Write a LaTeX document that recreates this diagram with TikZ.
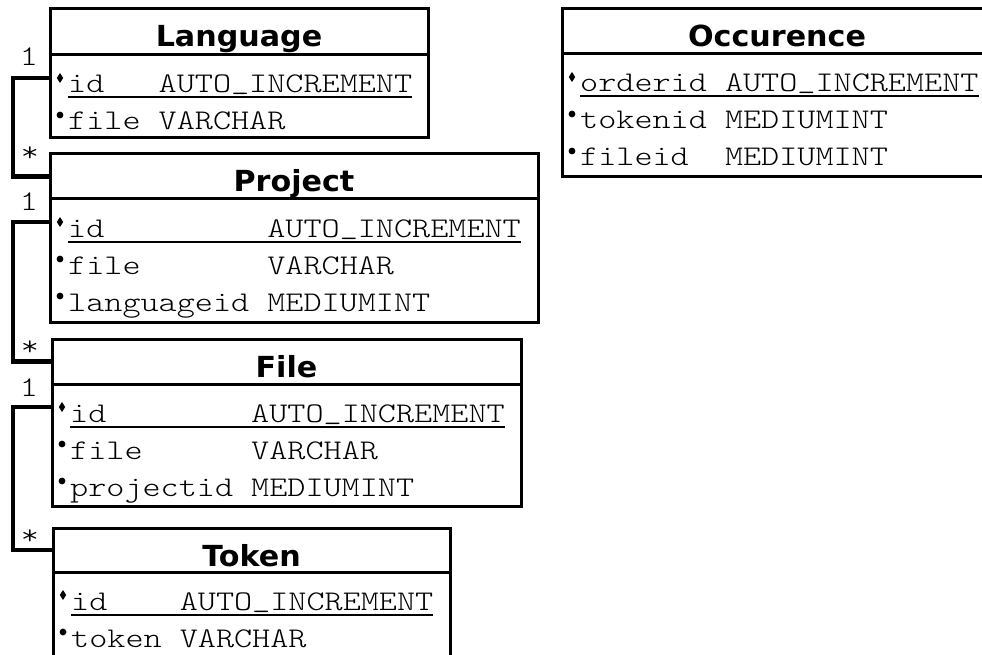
\documentclass[tikz,border=0pt]{standalone}
\usepackage{fontspec}
\newfontfamily\hdrfont{DejaVu Sans}[FakeStretch=1.04]
\newfontfamily\fieldfont{lmmonolt10-regular.otf}[FakeStretch=1.21]
\newcommand\colw[2]{\makebox[#1\fontcharwd\font`x][l]{#2}}
\newcommand\AI{AUTO\raisebox{3pt}{\textunderscore}INCREMENT}
\begin{document}
\begin{tikzpicture}[x=1pt,y=-1pt,
  tbl/.style={draw, line width=3pt, anchor=north west, inner sep=0pt, outer sep=0pt},
  ttl/.style={anchor=base, inner sep=0pt, font=\hdrfont\bfseries\fontsize{29}{33}\selectfont},
  fld/.style={anchor=base west, inner sep=0pt, font=\fieldfont\fontsize{28.5}{34}\selectfont},
  lbl/.style={inner sep=0pt, font=\fieldfont\fontsize{28.5}{34}\selectfont},
  conn/.style={line width=4.5pt},
  ul/.style={line width=2pt},
  keym/.pic={\fill (0,-5) -- (3.2,0) -- (0,5) -- (-3.2,0) -- cycle;},
  dotm/.pic={\fill (0,0) circle (3.4pt);},
]
\useasboundingbox (0,0) rectangle (982,655);
\clip (0,0) rectangle (982,655);

% ---------- Language ----------
\node[tbl, minimum width=378pt, minimum height=46pt] (langhead) at (50,9) {};
\node[tbl, minimum width=378pt, minimum height=83pt] (langbody) at (50,55) {};
\node[ttl] (langtitle) at (239,47) {Language};
\node[fld] (langid) at (68,93) {\colw{5}{id}\AI};
\node[fld] (langfile) at (68,130) {\colw{5}{file}VARCHAR};
\pic at ([xshift=-8pt,yshift=15pt]langid.base west) {keym};
\pic at ([xshift=-8pt,yshift=15pt]langfile.base west) {dotm};
\draw[ul] ([yshift=-4.5pt]langid.base west) -- ([yshift=-4.5pt]langid.base east);

% ---------- Project ----------
\node[tbl, minimum width=488pt, minimum height=45pt] (projhead) at (50,154) {};
\node[tbl, minimum width=488pt, minimum height=123pt] (projbody) at (50,199) {};
\node[ttl] (projtitle) at (294,192) {Project};
\node[fld] (projid) at (68,237) {\colw{11}{id}\AI};
\node[fld] (projfile) at (68,274) {\colw{11}{file}VARCHAR};
\node[fld] (projlang) at (68,311) {\colw{11}{languageid}MEDIUMINT};
\pic at ([xshift=-8pt,yshift=15pt]projid.base west) {keym};
\pic at ([xshift=-8pt,yshift=15pt]projfile.base west) {dotm};
\pic at ([xshift=-8pt,yshift=15pt]projlang.base west) {dotm};
\draw[ul] ([yshift=-4.5pt]projid.base west) -- ([yshift=-4.5pt]projid.base east);

% ---------- File ----------
\node[tbl, minimum width=469pt, minimum height=45pt] (filehead) at (52,339) {};
\node[tbl, minimum width=469pt, minimum height=122pt] (filebody) at (52,384) {};
\node[ttl] (filetitle) at (286.5,377) {File};
\node[fld] (fileid) at (70,422) {\colw{10}{id}\AI};
\node[fld] (filefile) at (70,459) {\colw{10}{file}VARCHAR};
\node[fld] (fileproj) at (70,496) {\colw{10}{projectid}MEDIUMINT};
\pic at ([xshift=-8pt,yshift=15pt]fileid.base west) {keym};
\pic at ([xshift=-8pt,yshift=15pt]filefile.base west) {dotm};
\pic at ([xshift=-8pt,yshift=15pt]fileproj.base west) {dotm};
\draw[ul] ([yshift=-4.5pt]fileid.base west) -- ([yshift=-4.5pt]fileid.base east);

% ---------- Token ----------
\node[tbl, minimum width=397pt, minimum height=44pt] (tokhead) at (53,528) {};
\node[tbl, minimum width=397pt, minimum height=100pt] (tokbody) at (53,572) {};
\node[ttl] (toktitle) at (251.5,566) {Token};
\node[fld] (tokid) at (71,610) {\colw{6}{id}\AI};
\node[fld] (toktok) at (71,647) {\colw{6}{token}VARCHAR};
\pic at ([xshift=-8pt,yshift=15pt]tokid.base west) {keym};
\pic at ([xshift=-8pt,yshift=15pt]toktok.base west) {dotm};
\draw[ul] ([yshift=-4.5pt]tokid.base west) -- ([yshift=-4.5pt]tokid.base east);

% ---------- Occurence ----------
\node[tbl, minimum width=430pt, minimum height=45pt] (occhead) at (562,9) {};
\node[tbl, minimum width=430pt, minimum height=123pt] (occbody) at (562,54) {};
\node[ttl] (occtitle) at (777,47) {Occurence};
\node[fld] (occord) at (580,92) {\colw{8}{orderid}\AI};
\node[fld] (occtok) at (580,129) {\colw{8}{tokenid}MEDIUMINT};
\node[fld] (occfile) at (580,166) {\colw{8}{fileid}MEDIUMINT};
\pic at ([xshift=-8pt,yshift=15pt]occord.base west) {keym};
\pic at ([xshift=-8pt,yshift=15pt]occtok.base west) {dotm};
\pic at ([xshift=-8pt,yshift=15pt]occfile.base west) {dotm};
\draw[ul] ([yshift=-4.5pt]occord.base west) -- ([yshift=-4.5pt]occord.base east);

% ---------- connectors ----------
\coordinate (rail) at (13,0);
\coordinate (langkey) at ([yshift=15pt]langid.base west);
\coordinate (projkey) at ([yshift=15pt]projid.base west);
\coordinate (filekey) at ([yshift=15pt]fileid.base west);
\draw[conn] (langbody.west |- langkey) -- (rail |- langkey) |- (projhead.west);
\draw[conn] (projbody.west |- projkey) -- (rail |- projkey) |- (filehead.west);
\draw[conn] (filebody.west |- filekey) -- (rail |- filekey) |- (tokhead.west);

% ---------- multiplicities ----------
\node[lbl, anchor=base] (m1a) at (29,66) {1};
\node[lbl] (m1b) at (30,154) {*};
\node[lbl, anchor=base] (m2a) at (29,211) {1};
\node[lbl] (m2b) at (30,348) {*};
\node[lbl, anchor=base] (m3a) at (29,396) {1};
\node[lbl] (m3b) at (30,537) {*};
\end{tikzpicture}
\end{document}
